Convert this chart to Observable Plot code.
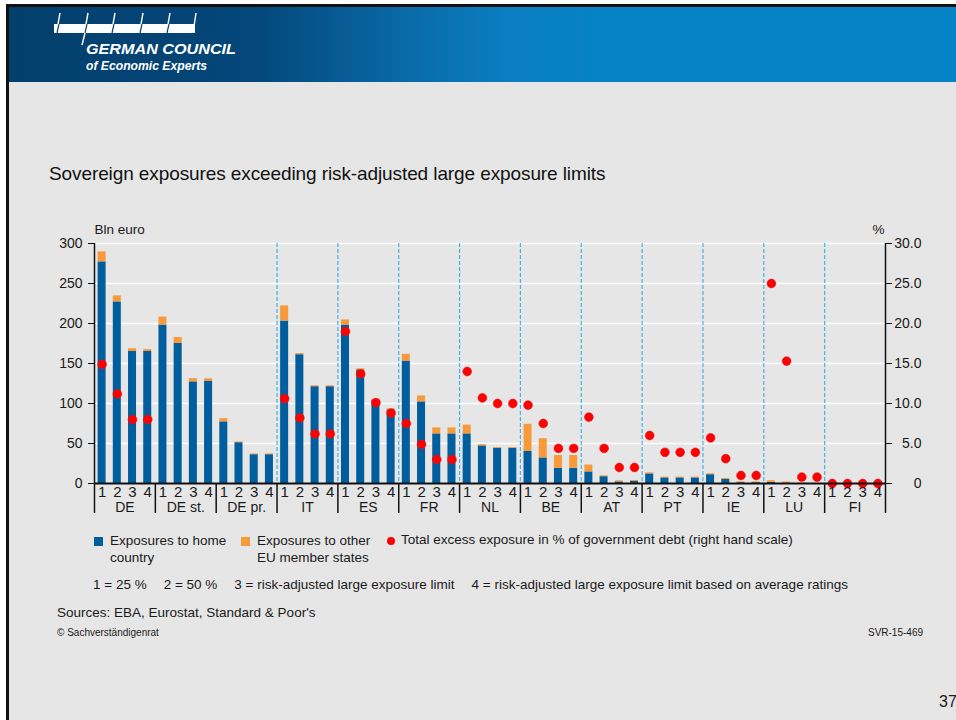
<!DOCTYPE html>
<html>
<head>
<meta charset="utf-8">
<script src="https://cdn.jsdelivr.net/npm/d3@7"></script>
<script src="https://cdn.jsdelivr.net/npm/@observablehq/plot@0.6"></script>
<style>
  html, body { margin: 0; padding: 0; background: #ffffff; }
  body { width: 956px; height: 720px; position: relative; overflow: hidden;
         font-family: "Liberation Sans", Arial, sans-serif; color: #1a1a1a; }
  .abs { position: absolute; }
  #frameTop { left: 6px; top: 4px; width: 950px; height: 3px; background: #111; }
  #frameLeft { left: 6px; top: 4px; width: 3px; height: 716px; background: #111; }
  #header { left: 9px; top: 7px; width: 947px; height: 75px;
            background: linear-gradient(90deg, #033f6c 0%, #04477a 26%, #0a6aa8 42%, #0a7dbf 52%, #0583c6 62%, #0583c6 100%); }
  #sheet { left: 9px; top: 82px; width: 947px; height: 638px; background: #e6e6e6; }
  #title { left: 49px; top: 163px; font-size: 19px; letter-spacing: -0.1px; color: #111; white-space: nowrap; }
  #chart { left: 0; top: 200px; }
  .legend { font-size: 13.5px; line-height: 16.5px; white-space: nowrap; }
  .swatch { width: 9px; height: 9px; }
  #note span { margin-right: 17px; }
</style>
</head>
<body>
<div id="frameTop" class="abs"></div>
<div id="frameLeft" class="abs"></div>
<div id="header" class="abs"></div>
<div id="sheet" class="abs"></div>

<svg class="abs" style="left:0;top:0" width="260" height="82">
  <g stroke="#ffffff" fill="none">
    <rect x="54" y="24" width="141" height="9" fill="#ffffff" stroke="none"></rect>
    <g stroke="#0a3f6c" stroke-width="1.2">
      <line x1="59" y1="24" x2="57" y2="33"></line>
      <line x1="87" y1="24" x2="85" y2="33"></line>
      <line x1="114" y1="24" x2="112" y2="33"></line>
      <line x1="142" y1="24" x2="140" y2="33"></line>
      <line x1="169" y1="24" x2="167" y2="33"></line>
    </g>
    <g stroke-width="1.4">
      <line x1="60" y1="13" x2="58" y2="24"></line>
      <line x1="88" y1="13" x2="86" y2="24"></line>
      <line x1="85" y1="33" x2="82" y2="45"></line>
      <line x1="115" y1="13" x2="113" y2="24"></line>
      <line x1="143" y1="13" x2="141" y2="24"></line>
      <line x1="170" y1="13" x2="168" y2="24"></line>
      <line x1="196" y1="13" x2="193" y2="33"></line>
    </g>
  </g>
  <text x="86" y="53.5" fill="#ffffff" font-family="Liberation Sans, Arial, sans-serif" font-weight="bold" font-style="italic" font-size="15" textLength="150" lengthAdjust="spacingAndGlyphs">GERMAN COUNCIL</text>
  <text x="86" y="70" fill="#ffffff" font-family="Liberation Sans, Arial, sans-serif" font-weight="bold" font-style="italic" font-size="12" textLength="121" lengthAdjust="spacingAndGlyphs">of Economic Experts</text>
</svg>

<div id="title" class="abs">Sovereign exposures exceeding risk-adjusted large exposure limits</div>
<div id="chart" class="abs"></div>

<!-- legend -->
<div class="abs swatch" style="left:94px;top:537px;background:#005d9e"></div>
<div class="abs legend" style="left:110px;top:533px">Exposures to home<br>country</div>
<div class="abs swatch" style="left:241px;top:537px;background:#f99a3a"></div>
<div class="abs legend" style="left:257px;top:533px">Exposures to other<br>EU member states</div>
<div class="abs" style="left:387px;top:537px;width:8px;height:8px;border-radius:50%;background:#ff0000"></div>
<div class="abs legend" style="left:401px;top:532px">Total excess exposure in % of government debt (right hand scale)</div>

<div id="note" class="abs legend" style="left:93px;top:577px"><span>1 = 25 %</span><span>2 = 50 %</span><span>3 = risk-adjusted large exposure limit</span><span>4 = risk-adjusted large exposure limit based on average ratings</span></div>
<div class="abs legend" style="left:57px;top:605px">Sources: EBA, Eurostat, Standard &amp; Poor's</div>
<div class="abs" style="left:57px;top:627px;font-size:10px;white-space:nowrap">© Sachverständigenrat</div>
<div class="abs" style="left:823px;top:627px;width:100px;text-align:right;font-size:10px">SVR-15-469</div>
<div class="abs" style="left:939px;top:693px;font-size:16px">37</div>

<script>
// Country groups along the x axis (four limit variants per group)
const groups = ["DE", "DE st.", "DE pr.", "IT", "ES", "FR", "NL", "BE", "AT", "PT", "IE", "LU", "FI"];
// Country each group belongs to; dashed separators mark a change of country
const countryOf = ["DE", "DE", "DE", "IT", "ES", "FR", "NL", "BE", "AT", "PT", "IE", "LU", "FI"];
const limitKeys = ["1", "2", "3", "4"];

// Exposures to home country, bln euro (left scale)
const homeExposure = [
  277, 227, 165, 165,
  198, 175, 127, 128,
  77, 51, 36, 36,
  203, 161, 121, 121,
  198, 142, 104, 92,
  153, 102, 62, 62,
  62, 47, 44, 44,
  40, 32, 19, 19,
  14.5, 8.5, 2, 2.5,
  12, 7, 7, 7,
  11, 5, 1, 1,
  1.5, 0.5, 0, 0,
  0, 0, 0, 0
];

// Exposures to other EU member states, bln euro (stacked on top)
const otherEUExposure = [
  12.5, 7.5, 3.5, 2.5,
  10, 7.5, 4, 3,
  4, 1, 1, 1,
  19, 1.5, 1.2, 1.2,
  6.5, 1.5, 1.5, 1.5,
  8.5, 7.5, 7.5, 7.5,
  11, 1.5, 1, 1,
  34, 24, 16, 16,
  8.5, 1.2, 1.3, 1.3,
  1.3, 1, 1, 1,
  1.2, 1.2, 1, 1,
  2, 1.5, 0.4, 0.4,
  0, 0, 0, 0
];

// Total excess exposure in % of government debt (right scale); null = not shown
const excessPctOfDebt = [
  14.9, 11.2, 8.0, 8.0,
  null, null, null, null,
  null, null, null, null,
  10.6, 8.2, 6.2, 6.2,
  19.0, 13.7, 10.1, 8.8,
  7.5, 4.9, 3.0, 3.0,
  14.0, 10.7, 10.0, 10.0,
  9.8, 7.5, 4.4, 4.4,
  8.3, 4.4, 2.0, 2.0,
  6.0, 3.9, 3.9, 3.9,
  5.7, 3.1, 1.0, 1.0,
  25.0, 15.3, 0.8, 0.8,
  0, 0, 0, 0
];

// Left axis ticks (bln euro) and right axis labels (%): 30 % sits at 300 bln
const leftTicks = [0, 50, 100, 150, 200, 250, 300];
const rightTickLabels = ["0", "5.0", "10.0", "15.0", "20.0", "25.0", "30.0"];
const pctToEuroScale = 10;

const BLUE = "#005d9e";
const ORANGE = "#f99a3a";
const RED = "#ff0000";
const INK = "#111111";

const nBars = groups.length * limitKeys.length;

// Long table for the stacked bars: one row per bar segment
const segments = [];
homeExposure.forEach((v, i) => {
  segments.push({i, series: "home", value: v});
  segments.push({i, series: "other", value: otherEUExposure[i]});
});

const excessPoints = excessPctOfDebt
  .map((p, i) => ({i, pct: p}))
  .filter(d => d.pct != null);

const barCenters = d3.range(nBars).map(i => i + 0.5);
const groupEdges = d3.range(0, nBars + 1, limitKeys.length);
const countryBreaks = groups
  .map((g, j) => j)
  .filter(j => j > 0 && countryOf[j] !== countryOf[j - 1])
  .map(j => j * limitKeys.length);

const chart = Plot.plot({
  width: 956,
  height: 323,
  marginLeft: 94,
  marginRight: 71,
  marginTop: 43,
  marginBottom: 40,
  style: {fontFamily: "Liberation Sans, Arial, sans-serif", fontSize: "14px", color: "#1a1a1a", background: "transparent", overflow: "visible"},
  x: {type: "linear", domain: [0, nBars], axis: null},
  y: {domain: [0, 300], axis: null},
  color: {domain: ["home", "other"], range: [BLUE, ORANGE]},
  marks: [
    Plot.gridY(leftTicks.filter(t => t > 0), {stroke: "#ffffff", strokeOpacity: 1, strokeWidth: 1.6}),
    Plot.ruleX(countryBreaks, {stroke: "#45b3e8", strokeWidth: 1.2, strokeDasharray: "4,2"}),
    Plot.rectY(segments, {
      x1: d => d.i, x2: d => d.i + 1, y: "value", fill: "series",
      insetLeft: 3.6, insetRight: 3.6
    }),
    Plot.dot(excessPoints, {x: d => d.i + 0.5, y: d => d.pct * pctToEuroScale, r: 4.4, fill: RED, stroke: "#e8101a", strokeWidth: 0.6}),
    Plot.ruleY([0], {stroke: INK, strokeWidth: 2}),
    Plot.ruleX([0, nBars], {stroke: INK, strokeWidth: 1.5}),
    // group separators below the axis (ticks only, no labels)
    Plot.axisX(groupEdges, {tickSize: 30, fill: "none", stroke: INK, strokeWidth: 1.5}),
    // limit variant numbers under each bar
    Plot.axisX(barCenters, {tickSize: 0, tickPadding: 3, fontSize: 15, tickFormat: d => limitKeys[Math.floor(d) % limitKeys.length]}),
    // group names
    Plot.text(groups, {x: (d, j) => j * limitKeys.length + limitKeys.length / 2, frameAnchor: "bottom", dy: 28, fontSize: 14, fill: "#1a1a1a"}),
    Plot.axisY(leftTicks, {anchor: "left", tickSize: 6, tickPadding: 6, fontSize: 14, label: null, stroke: INK}),
    Plot.axisY(leftTicks, {anchor: "right", tickSize: 6, tickPadding: 30, textAnchor: "end", fontSize: 14, label: null, stroke: INK,
      tickFormat: d => rightTickLabels[leftTicks.indexOf(d)]}),
    Plot.text(["Bln euro"], {frameAnchor: "top-left", textAnchor: "start", dy: -19, fontSize: 13.5, fill: "#1a1a1a"}),
    Plot.text(["%"], {frameAnchor: "top-right", textAnchor: "end", dx: -1, dy: -19, fontSize: 13.5, fill: "#1a1a1a"})
  ]
});

document.getElementById("chart").appendChild(chart);
</script>
</body>
</html>
